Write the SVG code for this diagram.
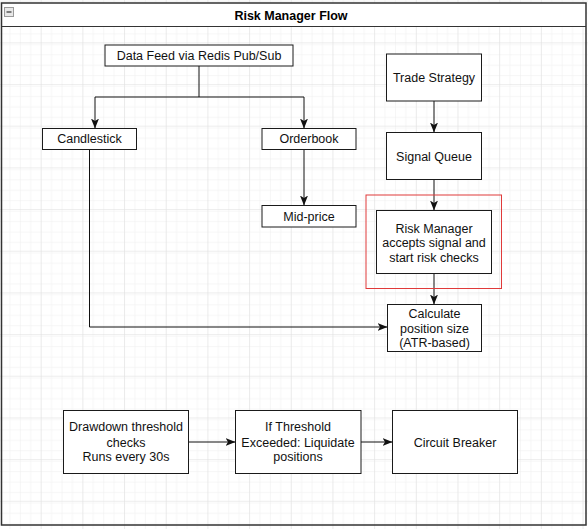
<svg xmlns="http://www.w3.org/2000/svg" width="588" height="529" viewBox="0 0 588 529">
  <defs>
    <pattern id="minor" patternUnits="userSpaceOnUse" x="0" y="1.6" width="10.42" height="10.42">
      <path d="M10.42,0 V10.42 M0,10.42 H10.42" fill="none" stroke="#eeeeee" stroke-width="1"/>
    </pattern>
    <pattern id="major" patternUnits="userSpaceOnUse" x="0" y="1.6" width="41.68" height="41.68">
      <rect width="41.68" height="41.68" fill="url(#minor)"/>
      <path d="M41.68,0 V41.68 M0,41.68 H41.68" fill="none" stroke="#dedede" stroke-width="1"/>
    </pattern>
    <marker id="arrow" viewBox="0 0 10 8" refX="10" refY="4" markerWidth="10" markerHeight="8" markerUnits="userSpaceOnUse" orient="auto">
      <path d="M0,0 L10,4 L0,8 L2.5,4 Z" fill="#111"/>
    </marker>
  </defs>
  <style>
    .box { fill: #ffffff; stroke: #1a1a1a; stroke-width: 1; }
    .lbl { font-family: "Liberation Sans", Arial, Helvetica, sans-serif; font-size: 12.5px; fill: #111; text-anchor: middle; }
    .title { font-family: "Liberation Sans", Arial, Helvetica, sans-serif; font-size: 12.5px; font-weight: bold; fill: #000; text-anchor: middle; }
    .edge { fill: none; stroke: #111; stroke-width: 1; marker-end: url(#arrow); }
  </style>

  <rect x="0" y="0" width="588" height="529" fill="#ffffff"/>
  <rect x="0" y="0" width="588" height="529" fill="url(#major)"/>

  <g id="container">
    <rect x="1.5" y="3" width="584.5" height="23.5" fill="#ffffff" stroke="none"/>
    <rect x="1.5" y="3" width="584.5" height="522" fill="none" stroke="#333333" stroke-width="1.5"/>
    <line x1="1.5" y1="26.5" x2="586" y2="26.5" stroke="#333333" stroke-width="1.2"/>
    <rect x="4.5" y="7.5" width="9" height="9" fill="#e8e8e8" stroke="#9a9a9a" stroke-width="1"/>
    <line x1="6.5" y1="12" x2="11.5" y2="12" stroke="#333" stroke-width="1.2"/>
    <text class="title" x="291" y="19.5">Risk Manager Flow</text>
  </g>

  <g id="connectors">
    <path class="edge" d="M199,66 V97 H95 V128.5"/>
    <path class="edge" d="M199,97 H304 V128.5"/>
    <path class="edge" d="M304,149.5 V205.5"/>
    <path class="edge" d="M434,101 V132.5"/>
    <path class="edge" d="M434,179.5 V210.5"/>
    <path class="edge" d="M434,273.5 V304.5"/>
    <path class="edge" d="M89.5,149.5 V327 H387.5"/>
    <path class="edge" d="M188.5,442 H235.5"/>
    <path class="edge" d="M361,442 H392.5"/>
  </g>

  <g id="data-feed">
    <rect class="box" x="105" y="45" width="188" height="21"/>
    <text class="lbl" x="199" y="59.5">Data Feed via Redis Pub/Sub</text>
  </g>
  <g id="candlestick">
    <rect class="box" x="42.5" y="128.5" width="94" height="21"/>
    <text class="lbl" x="89.5" y="143">Candlestick</text>
  </g>
  <g id="orderbook">
    <rect class="box" x="262" y="128.5" width="94" height="21"/>
    <text class="lbl" x="309" y="143">Orderbook</text>
  </g>
  <g id="mid-price">
    <rect class="box" x="262" y="205.5" width="94" height="21.5"/>
    <text class="lbl" x="309" y="220.5">Mid-price</text>
  </g>
  <g id="trade-strategy">
    <rect class="box" x="386.5" y="54" width="95" height="47"/>
    <text class="lbl" x="434" y="82">Trade Strategy</text>
  </g>
  <g id="signal-queue">
    <rect class="box" x="386.5" y="132.5" width="95" height="47"/>
    <text class="lbl" x="434" y="160.5">Signal Queue</text>
  </g>
  <g id="risk-highlight">
    <rect x="366" y="195" width="135.5" height="93.5" fill="none" stroke="#e03a3a" stroke-width="1"/>
  </g>
  <g id="risk-manager">
    <rect class="box" x="376.5" y="210.5" width="115" height="63"/>
    <text class="lbl" x="434" y="232.6">Risk Manager</text>
    <text class="lbl" x="434" y="247">accepts signal and</text>
    <text class="lbl" x="434" y="261.6">start risk checks</text>
  </g>
  <g id="position-size">
    <rect class="box" x="387.5" y="304.5" width="94" height="47"/>
    <text class="lbl" x="434.5" y="317.6">Calculate</text>
    <text class="lbl" x="434.5" y="332.5">position size</text>
    <text class="lbl" x="434.5" y="347">(ATR-based)</text>
  </g>
  <g id="drawdown">
    <rect class="box" x="63.5" y="410.5" width="125" height="63"/>
    <text class="lbl" x="126" y="431">Drawdown threshold</text>
    <text class="lbl" x="126" y="446.5">checks</text>
    <text class="lbl" x="126" y="461">Runs every 30s</text>
  </g>
  <g id="liquidate">
    <rect class="box" x="235.5" y="410.5" width="125.5" height="63"/>
    <text class="lbl" x="298" y="431">If Threshold</text>
    <text class="lbl" x="298" y="446.5">Exceeded: Liquidate</text>
    <text class="lbl" x="298" y="461">positions</text>
  </g>
  <g id="circuit-breaker">
    <rect class="box" x="392.5" y="410.5" width="125" height="63"/>
    <text class="lbl" x="455" y="446.5">Circuit Breaker</text>
  </g>
</svg>
